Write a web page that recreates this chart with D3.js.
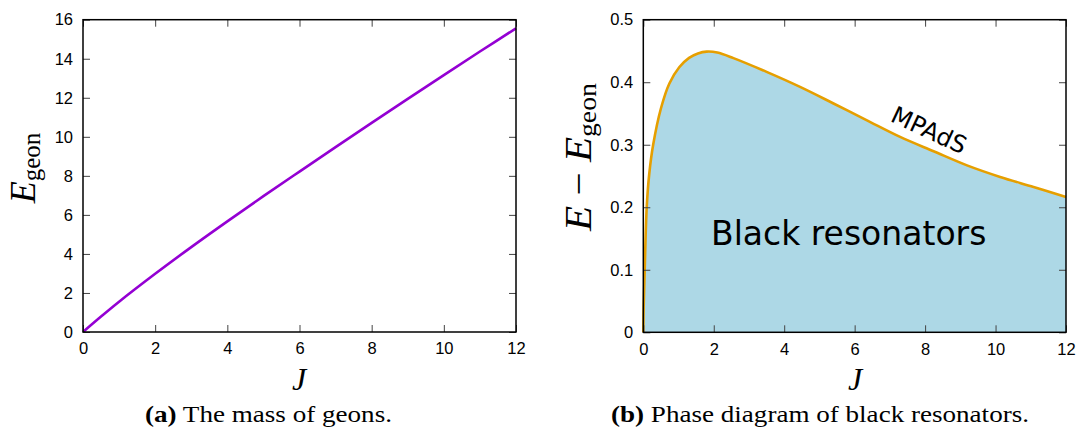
<!DOCTYPE html>
<html><head><meta charset="utf-8">
<script src="https://cdn.jsdelivr.net/npm/d3@7"></script>
<style>
body{margin:0;background:#fff;}
svg{display:block;}
</style></head>
<body>
<svg id="c" width="1078" height="428"></svg>
<script>
// ---- data ----
const geonJ = [0, 0.5, 1, 2, 3, 4, 5, 6, 7, 8, 9, 10, 11, 12];
const geonE = [0, 0.79, 1.55, 2.98, 4.35, 5.67, 6.96, 8.22, 9.47, 10.71, 11.94, 13.16, 14.37, 15.56];

const mpadsJ = [0, 0.01, 0.04, 0.097, 0.17, 0.28, 0.5, 0.74, 1.02, 1.3, 1.55, 1.8, 2.1, 2.56, 3.5, 4.45, 5.4, 6.35, 7.29, 8.24, 9.19, 10.13, 11.08, 12];
const mpadsE = [0, 0.04, 0.1, 0.2, 0.254, 0.3, 0.358, 0.398, 0.424, 0.439, 0.446, 0.449, 0.4475, 0.4385, 0.4165, 0.3925, 0.366, 0.339, 0.3125, 0.2896, 0.267, 0.2485, 0.2325, 0.2165];

const xTicks = [0, 2, 4, 6, 8, 10, 12];
const yTicksA = [0, 2, 4, 6, 8, 10, 12, 14, 16];
const yTicksB = [0, 0.1, 0.2, 0.3, 0.4, 0.5];

const svg = d3.select("#c");
const sans = "Liberation Sans, Arial, sans-serif";
const serif = "Liberation Serif, Times New Roman, serif";

function panel(x0, x1, y0, y1, xDom, yDom) {
  const x = d3.scaleLinear().domain(xDom).range([x0, x1]);
  const y = d3.scaleLinear().domain(yDom).range([y0, y1]);
  const g = svg.append("g");
  return {x, y, g};
}

function axes(p, yTicks, yFmt) {
  const {x, y, g} = p;
  const [x0, x1] = x.range();
  const [y0, y1] = y.range();
  const bot = g.append("g").attr("transform", `translate(0,${y0})`)
    .call(d3.axisBottom(x).tickValues(xTicks).tickSizeInner(-7).tickSizeOuter(0).tickPadding(10.5).tickFormat(d3.format("d")));
  const top = g.append("g").attr("transform", `translate(0,${y1})`)
    .call(d3.axisTop(x).tickValues(xTicks).tickSizeInner(-7).tickSizeOuter(0).tickFormat(""));
  const lef = g.append("g").attr("transform", `translate(${x0},0)`)
    .call(d3.axisLeft(y).tickValues(yTicks).tickSizeInner(-7).tickSizeOuter(0).tickPadding(10).tickFormat(yFmt));
  const rig = g.append("g").attr("transform", `translate(${x1},0)`)
    .call(d3.axisRight(y).tickValues(yTicks).tickSizeInner(-7).tickSizeOuter(0).tickFormat(""));
  [bot, top, lef, rig].forEach(a => {
    a.attr("font-family", sans).attr("font-size", 16.5);
    a.select(".domain").remove();
    a.selectAll(".tick line").attr("stroke", "#444").attr("stroke-width", 1);
    a.selectAll(".tick text").attr("fill", "#000");
  });
  g.append("rect").attr("x", x0).attr("y", y1).attr("width", x1 - x0).attr("height", y0 - y1)
    .attr("fill", "none").attr("stroke", "#000").attr("stroke-width", 1.5);
}

const cv = d3.curveCatmullRom.alpha(0.5);

// ---- Panel (a) ----
const pa = panel(83, 516, 332, 19.7, [0, 12], [0, 16]);
pa.g.append("path")
  .datum(geonJ.map((j, i) => [j, geonE[i]]))
  .attr("fill", "none").attr("stroke", "#9400D3").attr("stroke-width", 2.6)
  .attr("d", d3.line().x(d => pa.x(d[0])).y(d => pa.y(d[1])).curve(cv));
axes(pa, yTicksA, d3.format("d"));

// ---- Panel (b) ----
const pb = panel(643.3, 1066, 332.3, 19.7, [0, 12], [0, 0.5]);
const pts = mpadsJ.map((j, i) => [j, mpadsE[i]]);
pb.g.append("path").datum(pts)
  .attr("fill", "#ADD8E6")
  .attr("d", d3.area().x(d => pb.x(d[0])).y0(pb.y(0)).y1(d => pb.y(d[1])).curve(cv));
pb.g.append("path").datum(pts)
  .attr("fill", "none").attr("stroke", "#E69F00").attr("stroke-width", 2.6)
  .attr("d", d3.line().x(d => pb.x(d[0])).y(d => pb.y(d[1])).curve(cv));
axes(pb, yTicksB, d => d === 0 ? "0" : d3.format(".1f")(d));

pb.g.append("text").attr("x", 711).attr("y", 245)
  .attr("font-family", "DejaVu Sans, sans-serif").attr("font-size", 33)
  .text("Black resonators");
pb.g.append("text")
  .attr("transform", "translate(929,130) rotate(25)")
  .attr("text-anchor", "middle").attr("dy", "0.35em")
  .attr("font-family", "DejaVu Sans, sans-serif").attr("font-size", 24)
  .text("MPAdS");

// ---- axis titles ----
svg.append("text").attr("x", 299).attr("y", 390).attr("text-anchor", "middle")
  .attr("font-family", serif).attr("font-style", "italic").attr("font-size", 32).text("J");
svg.append("text").attr("x", 855).attr("y", 390).attr("text-anchor", "middle")
  .attr("font-family", serif).attr("font-style", "italic").attr("font-size", 32).text("J");

const ya = svg.append("text").attr("transform", "translate(35,168) rotate(-90)")
  .attr("text-anchor", "middle").attr("font-family", serif).attr("font-size", 36);
ya.append("tspan").attr("font-style", "italic").text("E");
ya.append("tspan").attr("font-size", 25).attr("dy", 5).text("geon");

const yb = svg.append("text").attr("transform", "translate(591,157) rotate(-90)")
  .attr("text-anchor", "middle").attr("font-family", serif).attr("font-size", 37)
  .attr("textLength", 148).attr("lengthAdjust", "spacingAndGlyphs");
yb.append("tspan").attr("font-style", "italic").text("E");
yb.append("tspan").text(" − ");
yb.append("tspan").attr("font-style", "italic").text("E");
yb.append("tspan").attr("font-size", 25).attr("dy", 5).text("geon");

// ---- captions ----
const ca = svg.append("text").attr("x", 145).attr("y", 422)
  .attr("font-family", serif).attr("font-size", 23)
  .attr("textLength", 247).attr("lengthAdjust", "spacingAndGlyphs");
ca.append("tspan").attr("font-weight", "bold").text("(a)");
ca.append("tspan").text(" The mass of geons.");

const cb = svg.append("text").attr("x", 611).attr("y", 422)
  .attr("font-family", serif).attr("font-size", 23)
  .attr("textLength", 418).attr("lengthAdjust", "spacingAndGlyphs");
cb.append("tspan").attr("font-weight", "bold").text("(b)");
cb.append("tspan").text(" Phase diagram of black resonators.");
</script>
</body></html>
